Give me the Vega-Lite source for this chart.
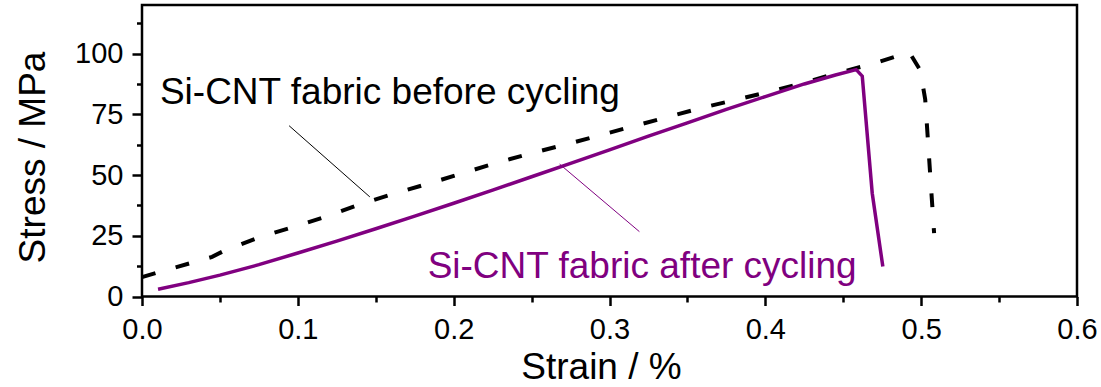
{
  "$schema": "https://vega.github.io/schema/vega-lite/v6.json",
  "autosize": {"type": "none"},
  "padding": {"left": 142, "top": 5, "right": 24, "bottom": 90},
  "width": 935,
  "height": 291.5,
  "config": {
    "view": {"stroke": "black", "strokeWidth": 2.5},
    "font": "Liberation Sans",
    "axis": {"grid": false, "domain": false, "tickColor": "black", "tickWidth": 2.5, "labelColor": "black", "titleColor": "black", "labelFont": "Liberation Sans", "titleFont": "Liberation Sans", "titleFontWeight": "normal", "labelFlush": false, "labelOverlap": false}
  },
  "datasets": {
    "before": [
      {"strain": 0, "stress": 8.0},
      {"strain": 0.045, "stress": 16.3},
      {"strain": 0.052, "stress": 18.6},
      {"strain": 0.074, "stress": 24.1},
      {"strain": 0.097, "stress": 28.6},
      {"strain": 0.119, "stress": 33.1},
      {"strain": 0.141, "stress": 38.2},
      {"strain": 0.163, "stress": 42.6},
      {"strain": 0.185, "stress": 46.7},
      {"strain": 0.206, "stress": 50.8},
      {"strain": 0.228, "stress": 55.1},
      {"strain": 0.25, "stress": 59.0},
      {"strain": 0.272, "stress": 62.6},
      {"strain": 0.294, "stress": 66.4},
      {"strain": 0.317, "stress": 70.4},
      {"strain": 0.338, "stress": 74.0},
      {"strain": 0.36, "stress": 77.8},
      {"strain": 0.382, "stress": 81.1},
      {"strain": 0.404, "stress": 84.5},
      {"strain": 0.426, "stress": 88.2},
      {"strain": 0.447, "stress": 92.1},
      {"strain": 0.47, "stress": 96.0},
      {"strain": 0.4923, "stress": 100.6},
      {"strain": 0.4994, "stress": 93.2},
      {"strain": 0.5026, "stress": 81.1},
      {"strain": 0.5083, "stress": 26.1}
    ],
    "after": [
      {"strain": 0.0103, "stress": 3.0},
      {"strain": 0.03, "stress": 5.7},
      {"strain": 0.05, "stress": 8.8},
      {"strain": 0.075, "stress": 13.1},
      {"strain": 0.1, "stress": 17.9},
      {"strain": 0.125, "stress": 22.8},
      {"strain": 0.15, "stress": 27.9},
      {"strain": 0.175, "stress": 33.1},
      {"strain": 0.2, "stress": 38.4},
      {"strain": 0.225, "stress": 43.8},
      {"strain": 0.25, "stress": 49.3},
      {"strain": 0.275, "stress": 54.8},
      {"strain": 0.3, "stress": 60.4},
      {"strain": 0.325, "stress": 66.0},
      {"strain": 0.35, "stress": 71.5},
      {"strain": 0.375, "stress": 77.0},
      {"strain": 0.4, "stress": 82.3},
      {"strain": 0.425, "stress": 87.5},
      {"strain": 0.445, "stress": 91.2},
      {"strain": 0.4583, "stress": 93.4},
      {"strain": 0.4622, "stress": 90.7},
      {"strain": 0.4686, "stress": 42.5},
      {"strain": 0.4754, "stress": 12.3}
    ],
    "labels": [
      {"series": "before", "text": "Si-CNT fabric before cycling", "strain": 0.0115, "stress": 79.2},
      {"series": "after", "text": "Si-CNT fabric after cycling", "strain": 0.1833, "stress": 7.6}
    ],
    "leaders": [
      {"series": "before", "strain": 0.0944, "stress": 70.3, "strain2": 0.1462, "stress2": 41.0},
      {"series": "after", "strain": 0.268, "stress": 54.5, "strain2": 0.3192, "stress2": 26.7}
    ]
  },
  "resolve": {"axis": {"x": "independent", "y": "independent"}},
  "layer": [
    {
      "data": {"name": "before"},
      "mark": {"type": "line", "color": "black", "strokeWidth": 4, "strokeDash": [14, 21], "strokeCap": "butt"},
      "encoding": {
        "x": {"field": "strain", "type": "quantitative", "scale": {"domain": [0, 0.6], "nice": false, "zero": false},
          "axis": {"orient": "bottom", "values": [0, 0.1, 0.2, 0.3, 0.4, 0.5, 0.6], "format": ".1f", "labelFontSize": 29, "tickSize": 9, "labelPadding": 10,
            "title": "Strain / %", "titleFontSize": 37, "titleX": 459, "titleY": 82, "titleBaseline": "alphabetic", "titleAnchor": "middle", "titleAlign": "center"}},
        "y": {"field": "stress", "type": "quantitative", "scale": {"domain": [0, 120], "nice": false, "zero": false},
          "axis": {"orient": "left", "values": [0, 25, 50, 75, 100], "labelFontSize": 29, "tickSize": 10, "labelPadding": 9,
            "title": "Stress / MPa", "titleFontSize": 37, "titleAngle": -90, "titleX": -98, "titleY": 152, "titleBaseline": "alphabetic", "titleAlign": "center"}}
      }
    },
    {
      "data": {"name": "after"},
      "mark": {"type": "line", "color": "#800080", "strokeWidth": 3.5},
      "encoding": {
        "x": {"field": "strain", "type": "quantitative",
          "axis": {"orient": "bottom", "values": [0.05, 0.15, 0.25, 0.35, 0.45, 0.55], "labels": false, "tickSize": 5.5, "title": null}},
        "y": {"field": "stress", "type": "quantitative",
          "axis": {"orient": "left", "values": [12.5, 37.5, 62.5, 87.5, 112.5], "labels": false, "tickSize": 5.5, "title": null}}
      }
    },
    {
      "data": {"name": "leaders"},
      "mark": {"type": "rule", "strokeWidth": 1},
      "encoding": {
        "x": {"field": "strain", "type": "quantitative", "axis": null},
        "y": {"field": "stress", "type": "quantitative", "axis": null},
        "x2": {"field": "strain2"},
        "y2": {"field": "stress2"},
        "color": {"field": "series", "type": "nominal", "scale": {"domain": ["before", "after"], "range": ["black", "#800080"]}, "legend": null}
      }
    },
    {
      "data": {"name": "labels"},
      "mark": {"type": "text", "align": "left", "baseline": "alphabetic", "fontSize": 37, "font": "Liberation Sans"},
      "encoding": {
        "x": {"field": "strain", "type": "quantitative", "axis": null},
        "y": {"field": "stress", "type": "quantitative", "axis": null},
        "text": {"field": "text"},
        "color": {"field": "series", "type": "nominal", "scale": {"domain": ["before", "after"], "range": ["black", "#800080"]}, "legend": null}
      }
    }
  ]
}
